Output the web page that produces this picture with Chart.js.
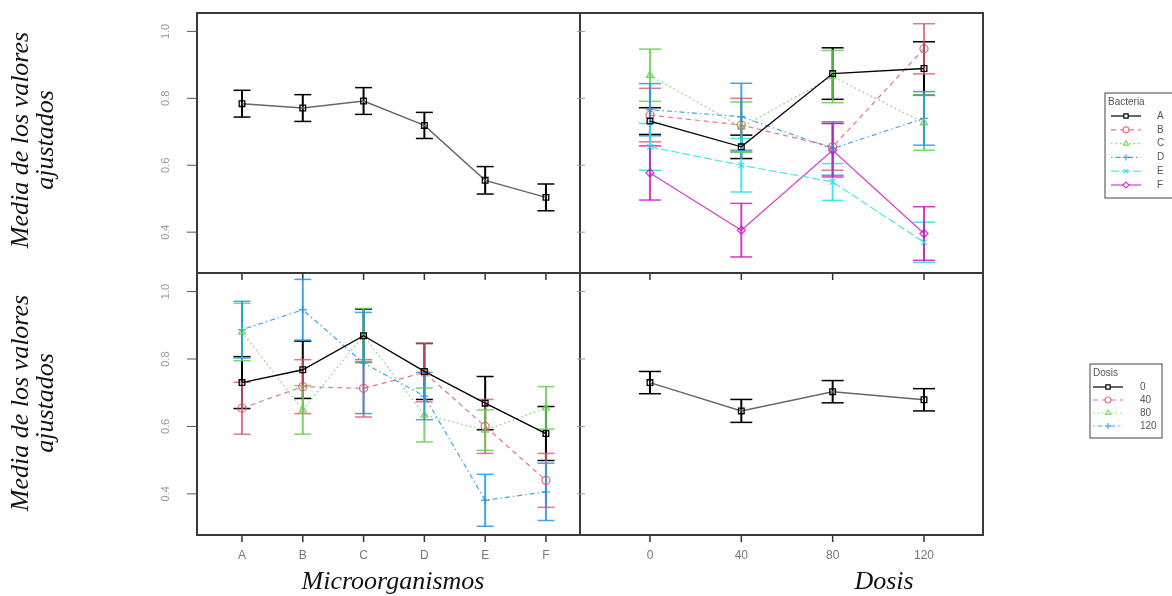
<!DOCTYPE html>
<html>
<head>
<meta charset="utf-8">
<script src="https://cdn.jsdelivr.net/npm/chart.js@4.4.1/dist/chart.umd.min.js"></script>
<style>
  body { margin: 0; background: #fff; width: 1172px; height: 596px; overflow: hidden; position: relative; }
  canvas { position: absolute; left: 0; top: 0; }
  .titulo { position: absolute; font-family: "Liberation Serif", "DejaVu Serif", serif; font-style: italic; font-size: 26px; color: #111; text-align: center; white-space: nowrap; }
  .ytit { width: 300px; height: 50px; line-height: 25px; transform: rotate(-90deg); left: -118px; }
</style>
</head>
<body>
<canvas id="p1" width="1172" height="596"></canvas>
<canvas id="p2" width="1172" height="596"></canvas>
<canvas id="p3" width="1172" height="596"></canvas>
<canvas id="p4" width="1172" height="596"></canvas>
<div class="titulo ytit" style="top:115px">Media de los valores<br>ajustados</div>
<div class="titulo ytit" style="top:378px">Media de los valores<br>ajustados</div>
<div class="titulo" style="left:293px; top:566px; width:200px;">Microorganismos</div>
<div class="titulo" style="left:834px; top:566px; width:100px;">Dosis</div>
<script>
// categorias y ticks
const microorganismos = ['A', 'B', 'C', 'D', 'E', 'F'];
const dosis = ['0', '40', '80', '120'];
const ticksY = [0.4, 0.6, 0.8, 1.0];
const etiquetasY = ['0.4', '0.6', '0.8', '1.0'];

// panel superior izquierdo: medias por microorganismo
const mediaMicro = [0.784, 0.771, 0.792, 0.719, 0.555, 0.504];
const errMicro = [0.040, 0.040, 0.040, 0.039, 0.041, 0.040];

// panel inferior derecho: medias por dosis
const mediaDosis = [0.730, 0.646, 0.703, 0.679];
const errDosis = [0.033, 0.034, 0.033, 0.033];

// panel superior derecho: bacteria x dosis
const bacA = [0.732, 0.655, 0.874, 0.889];
const bacB = [0.750, 0.720, 0.655, 0.948];
const bacC = [0.869, 0.714, 0.865, 0.727];
const bacD = [0.766, 0.745, 0.650, 0.740];
const bacE = [0.655, 0.600, 0.550, 0.370];
const bacF = [0.577, 0.406, 0.645, 0.396];
const errBacA = [0.040, 0.035, 0.077, 0.080];
const errBacB = [0.080, 0.080, 0.070, 0.075];
const errBacC = [0.078, 0.075, 0.078, 0.082];
const errBacD = [0.078, 0.100, 0.080, 0.080];
const errBacE = [0.070, 0.080, 0.055, 0.060];
const errBacF = [0.081, 0.080, 0.080, 0.080];

// panel inferior izquierdo: dosis x microorganismo
const dos0 = [0.730, 0.768, 0.869, 0.763, 0.669, 0.579];
const dos40 = [0.654, 0.718, 0.713, 0.760, 0.600, 0.440];
const dos80 = [0.880, 0.649, 0.870, 0.634, 0.589, 0.655];
const dos120 = [0.887, 0.946, 0.788, 0.690, 0.381, 0.406];
const errDos0 = [0.077, 0.085, 0.079, 0.083, 0.079, 0.080];
const errDos40 = [0.077, 0.080, 0.085, 0.087, 0.080, 0.080];
const errDos80 = [0.085, 0.072, 0.080, 0.080, 0.060, 0.063];
const errDos120 = [0.084, 0.090, 0.150, 0.070, 0.077, 0.085];

const colores = ['#000000', 'rgba(223,83,107,0.8)', 'rgba(97,208,79,0.85)', 'rgba(34,151,230,0.85)', 'rgba(40,226,229,0.85)', 'rgba(205,11,188,0.8)'];
const trazos = [[], [5, 4], [1.5, 3], [1.5, 3, 5, 3], [8, 3], []];
const marcas = ['rect', 'circle', 'triangle', 'cross', 'crossRot', 'rectRot'];

const yMin = 0.278, yMax = 1.055;

function serie(etiqueta, valores, errores, i) {
  return {
    label: etiqueta,
    data: valores.map((v, j) => ({ x: j, y: v })),
    errores: errores,
    borderColor: colores[i],
    borderDash: trazos[i],
    borderWidth: i === 0 ? 1.4 : 1.2,
    pointStyle: marcas[i],
    pointRadius: 4,
    pointBorderColor: colores[i],
    pointBackgroundColor: 'rgba(255,255,255,0)',
    pointBorderWidth: 1.3,
    tension: 0
  };
}

function linea(ctx, x1, y1, x2, y2) {
  ctx.beginPath(); ctx.moveTo(x1, y1); ctx.lineTo(x2, y2); ctx.stroke();
}

// barras de error con los ejes del grafico
function barrasError(ancho) {
  return {
    id: 'barrasError',
    beforeDatasetsDraw(chart) {
      const { ctx, scales: { x, y } } = chart;
      chart.data.datasets.forEach(ds => {
        ctx.save();
        ctx.strokeStyle = ds.colorBarra || ds.borderColor;
        ds.data.forEach((p, j) => {
          const px = x.getPixelForValue(p.x);
          const arriba = y.getPixelForValue(p.y + ds.errores[j]);
          const abajo = y.getPixelForValue(p.y - ds.errores[j]);
          ctx.lineWidth = 2;
          linea(ctx, px, arriba, px, abajo);
          ctx.lineWidth = 1.5;
          linea(ctx, px - ancho / 2, arriba, px + ancho / 2, arriba);
          linea(ctx, px - ancho / 2, abajo, px + ancho / 2, abajo);
        });
        ctx.restore();
      });
    }
  };
}

function leyenda(ctx, ley) {
  ctx.save();
  ctx.strokeStyle = '#444';
  ctx.lineWidth = 1;
  ctx.strokeRect(ley.x, ley.y, ley.ancho, ley.alto);
  ctx.fillStyle = '#555';
  ctx.font = '10px "Liberation Sans", Arial, sans-serif';
  ctx.textBaseline = 'middle';
  ctx.textAlign = 'left';
  ctx.fillText(ley.titulo, ley.x + 3, ley.y + 9);
  ley.etiquetas.forEach((et, i) => {
    const yy = ley.y + 23 + i * ley.paso;
    ctx.strokeStyle = colores[i];
    ctx.lineWidth = 1.2;
    ctx.setLineDash(trazos[i]);
    linea(ctx, ley.x + ley.l0, yy, ley.x + ley.l1, yy);
    ctx.setLineDash([]);
    ctx.fillStyle = '#fff';
    Chart.helpers.drawPoint(ctx, { pointStyle: marcas[i], radius: 3, borderWidth: 1.2, rotation: 0 }, ley.x + (ley.l0 + ley.l1) / 2, yy);
    ctx.fillStyle = '#555';
    ctx.fillText(et, ley.x + ley.tx, yy);
  });
  ctx.restore();
}

// marco, ticks y etiquetas de cada panel
function marco(cfg) {
  return {
    id: 'marco',
    afterDraw(chart) {
      const { ctx, chartArea: a, scales: { x, y } } = chart;
      ctx.save();
      ctx.strokeStyle = '#3a3a3a';
      ctx.lineWidth = 2;
      ctx.strokeRect(a.left, a.top, a.right - a.left, a.bottom - a.top);
      ctx.strokeStyle = '#333';
      ctx.lineWidth = 1.5;
      ctx.fillStyle = '#777';
      ctx.font = '12px "Liberation Sans", Arial, sans-serif';
      ctx.textAlign = 'center';
      ctx.textBaseline = 'middle';
      cfg.categorias.forEach((c, j) => {
        const px = x.getPixelForValue(j);
        linea(ctx, px, a.bottom, px, a.bottom + 7);
        if (cfg.etiquetasX) ctx.fillText(c, px, a.bottom + 21);
      });
      ticksY.forEach((v, k) => {
        const py = y.getPixelForValue(v);
        if (cfg.ejeY) {
          ctx.strokeStyle = '#555';
          ctx.lineWidth = 1;
          linea(ctx, a.left - 10, py, a.left, py);
          ctx.save();
          ctx.translate(a.left - 31, py);
          ctx.rotate(-Math.PI / 2);
          ctx.fillStyle = '#999';
          ctx.font = '11px "Liberation Sans", Arial, sans-serif';
          ctx.fillText(etiquetasY[k], 0, 0);
          ctx.restore();
        } else {
          ctx.strokeStyle = '#999';
          ctx.lineWidth = 1;
          linea(ctx, a.left - 3, py, a.left + 5, py);
        }
      });
      if (cfg.leyenda) leyenda(ctx, cfg.leyenda);
      ctx.restore();
    }
  };
}

function panel(id, area, xMin, xMax, datasets, cfg, ancho) {
  const ctx = document.getElementById(id).getContext('2d');
  return new Chart(ctx, {
    type: 'line',
    data: { datasets: datasets },
    options: {
      responsive: false,
      animation: false,
      events: [],
      layout: { padding: { left: area[0], top: area[1], right: 1172 - area[2], bottom: 596 - area[3] } },
      scales: {
        x: { type: 'linear', min: xMin, max: xMax, display: false },
        y: { type: 'linear', min: yMin, max: yMax, display: false }
      },
      plugins: { legend: { display: false }, tooltip: { enabled: false } }
    },
    plugins: [barrasError(ancho), marco(cfg)]
  });
}

const gris = serie('Media', mediaMicro, errMicro, 0);
gris.borderColor = '#666';
gris.colorBarra = '#000';
panel('p1', [197, 13, 580, 273], -0.74, 5.56, [gris],
  { categorias: microorganismos, etiquetasX: false, ejeY: true }, 17);

panel('p2', [580, 13, 983, 273], -0.766, 3.646, [
  serie('A', bacA, errBacA, 0),
  serie('B', bacB, errBacB, 1),
  serie('C', bacC, errBacC, 2),
  serie('D', bacD, errBacD, 3),
  serie('E', bacE, errBacE, 4),
  serie('F', bacF, errBacF, 5)
], {
  categorias: dosis, etiquetasX: false, ejeY: false,
  leyenda: { x: 1105, y: 93, ancho: 80, alto: 105, paso: 13.8, titulo: 'Bacteria', etiquetas: microorganismos, l0: 6, l1: 36, tx: 52 }
}, 22);

panel('p3', [197, 273, 580, 535], -0.74, 5.56, [
  serie('0', dos0, errDos0, 0),
  serie('40', dos40, errDos40, 1),
  serie('80', dos80, errDos80, 2),
  serie('120', dos120, errDos120, 3)
], { categorias: microorganismos, etiquetasX: true, ejeY: true }, 17);

const grisDosis = serie('Media', mediaDosis, errDosis, 0);
grisDosis.borderColor = '#666';
grisDosis.colorBarra = '#000';
panel('p4', [580, 273, 983, 535], -0.766, 3.646, [grisDosis], {
  categorias: dosis, etiquetasX: true, ejeY: false,
  leyenda: { x: 1090, y: 364, ancho: 72, alto: 74, paso: 13, titulo: 'Dosis', etiquetas: dosis, l0: 3, l1: 33, tx: 50 }
}, 22);
</script>
</body>
</html>
